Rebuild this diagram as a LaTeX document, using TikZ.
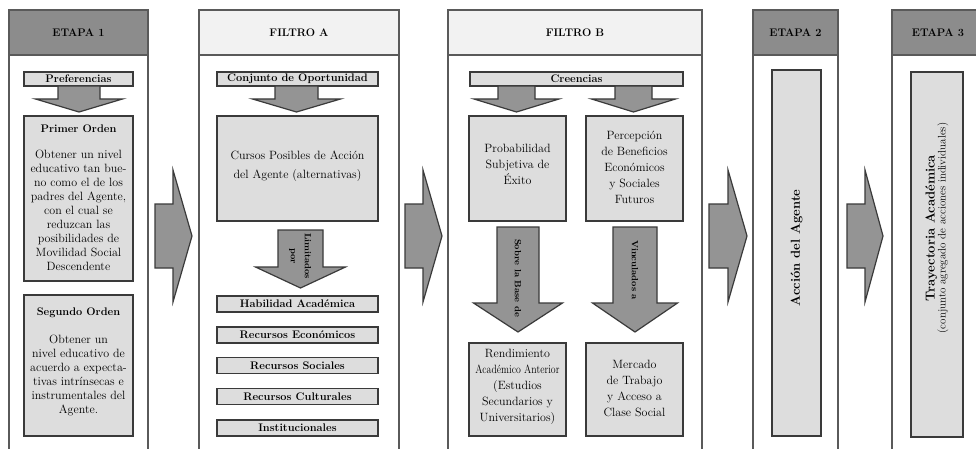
\documentclass[tikz,border=0pt]{standalone}
\usepackage{graphicx}
\definecolor{hdark}{HTML}{8C8C8C}
\definecolor{hlight}{HTML}{F2F2F2}
\definecolor{boxfill}{HTML}{DDDDDD}
\definecolor{arrfill}{HTML}{949494}
\definecolor{edge}{HTML}{3A3A3A}
\definecolor{coledge}{HTML}{5A5A5A}
\tikzset{
  colline/.style={draw=coledge, line width=1.2pt},
  hdrdark/.style={draw=coledge, line width=1.2pt, fill=hdark},
  hdrlight/.style={draw=coledge, line width=1.2pt, fill=hlight},
  gbox/.style={draw=edge, line width=1.4pt, fill=boxfill, inner sep=0pt},
  arr/.style={draw=edge, line width=1.2pt, fill=arrfill, line join=miter},
  hdrtxt/.style={font=\fontsize{11}{13}\selectfont\bfseries, inner sep=0pt},
  bartxt/.style={font=\fontsize{11}{13}\selectfont\bfseries},
  ttl/.style={font=\fontsize{11}{13}\selectfont\bfseries, inner sep=0pt},
  body/.style={align=center, font=\fontsize{12}{14}\selectfont, inner sep=0pt},
  bodyb/.style={align=center, font=\fontsize{12}{16}\selectfont, inner sep=0pt},
  rot/.style={align=center, font=\fontsize{9}{12}\selectfont\bfseries, inner sep=0pt, rotate=-90},
}
% down block arrow: cx, shaft half, head half, ytop, yhead, ytip
\newcommand\blkdown[6]{%
  \draw[arr] (#1-#2,#4) -- (#1+#2,#4) -- (#1+#2,#5) -- (#1+#3,#5) -- (#1,#6)
    -- (#1-#3,#5) -- (#1-#2,#5) -- cycle;}
% right block arrow: xleft, xhead, xtip
\newcommand\blkright[3]{%
  \draw[arr] (#1,204) -- (#2,204) -- (#2,170) -- (#3,236) -- (#2,302)
    -- (#2,268) -- (#1,268) -- cycle;}
\begin{document}
\begin{tikzpicture}[x=1pt,y=-1pt]
\useasboundingbox (0,0) rectangle (976,449);
\fill[white] (0,0) rectangle (976,449);

% ---------- columns ----------
\foreach \xa/\xb in {9/148, 199/399, 448/702, 753/838, 892/984}{
  \draw[colline] (\xa,449) -- (\xa,10) -- (\xb,10) -- (\xb,449);
}
\draw[hdrdark]  (9,10) rectangle (148,55);
\draw[hdrlight] (199,10) rectangle (399,55);
\draw[hdrlight] (448,10) rectangle (702,55);
\draw[hdrdark]  (753,10) rectangle (838,55);
\draw[hdrdark]  (892,10) rectangle (984,55);
\node[hdrtxt] (h1) at (78.5,32.5) {ETAPA 1};
\node[hdrtxt] (h2) at (299,32.5) {FILTRO A};
\node[hdrtxt] (h3) at (575,32.5) {FILTRO B};
\node[hdrtxt] (h4) at (795.5,32.5) {ETAPA 2};
\node[hdrtxt] (h5) at (938,32.5) {ETAPA 3};

% ---------- ETAPA 1 ----------
\node[gbox, bartxt, minimum width=109pt, minimum height=14pt] (pref) at (78.5,79) {Preferencias};
\blkdown{79}{21}{43.5}{86}{99}{112}
\node[gbox, minimum width=109pt, minimum height=165pt] (po) at (78.5,198.5) {};
\node[ttl] (pot) at (78.5,129) {Primer Orden};
\node[body] (pob) at (78.5,210.5) {Obtener un nivel\\educativo tan bue-\\no como el de los\\padres del Agente,\\con el cual se\\reduzcan las\\posibilidades de\\Movilidad Social\\Descendente};
\node[gbox, minimum width=109pt, minimum height=141pt] (so) at (78.5,365.5) {};
\node[ttl] (sot) at (78.5,313) {Segundo Orden};
\node[body] (sob) at (78.5,375.5) {Obtener un\\nivel educativo de\\acuerdo a expecta-\\tivas intrínsecas e\\instrumentales del\\Agente.};

\blkright{155}{173}{192}

% ---------- FILTRO A ----------
\node[gbox, bartxt, minimum width=161pt, minimum height=14pt] (conj) at (297.5,79) {Conjunto de Oportunidad};
\blkdown{296.5}{21.5}{44}{86}{99}{112}
\node[gbox, minimum width=161pt, minimum height=105pt] (cur) at (297.5,168.5) {};
\node[align=center, font=\fontsize{12}{19}\selectfont, inner sep=0pt] (curt) at (297.5,166) {Cursos Posibles de Acción\\del Agente (alternativas)};
\blkdown{300.5}{22.5}{45}{230}{267}{288}
\node[rot, font=\fontsize{9}{14}\selectfont\bfseries] (lim) at (300,256) {Limitados\\por};
\foreach \yy/\tt/\nm in {304/Habilidad Académica/r1, 335/Recursos Económicos/r2, 365.5/Recursos Sociales/r3, 396.5/Recursos Culturales/r4, 428/Institucionales/r5}{
  \node[gbox, bartxt, minimum width=161pt, minimum height=16pt] (\nm) at (297.5,\yy) {\tt};
}

\blkright{405}{423}{442}

% ---------- FILTRO B ----------
\node[gbox, bartxt, minimum width=213pt, minimum height=14pt] (cre) at (576.5,79) {Creencias};
\blkdown{516.5}{18.5}{42.5}{86}{99}{112}
\blkdown{633.5}{18.5}{42}{86}{99}{112}
\node[gbox, minimum width=97pt, minimum height=105pt] (prob) at (517.5,168.5) {};
\node[bodyb] (probt) at (517.5,164) {Probabilidad\\Subjetiva de\\Éxito};
\node[gbox, minimum width=97pt, minimum height=105pt] (perc) at (634.5,168.5) {};
\node[bodyb] (perct) at (634.5,167) {Percepción\\de Beneficios\\Económicos\\y Sociales\\Futuros};
\blkdown{518}{21}{44.5}{227}{303}{332}
\blkdown{635}{22}{42.5}{227}{303}{332}
\node[rot] (sob2) at (518,278) {Sobre la Base de};
\node[rot] (vin) at (635,270) {Vinculados a};
\node[gbox, minimum width=97pt, minimum height=93pt] (rend) at (517.5,389.5) {};
\node[bodyb] (rendt) at (517.5,387) {Rendimiento\\\scalebox{0.82}[1]{Académico Anterior}\\(Estudios\\Secundarios y\\Universitarios)};
\node[gbox, minimum width=97pt, minimum height=93pt] (merc) at (634.5,389.5) {};
\node[bodyb] (merct) at (634.5,388) {Mercado\\de Trabajo\\y Acceso a\\Clase Social};

\blkright{709}{728}{747}

% ---------- ETAPA 2 ----------
\node[gbox, minimum width=49pt, minimum height=366pt] (acc) at (796.5,253) {};
\node[rotate=90, font=\fontsize{13}{15}\selectfont\bfseries, inner sep=0pt] (acct) at (796.5,248) {Acción del Agente};

\blkright{847}{865}{883}

% ---------- ETAPA 3 ----------
\node[gbox, minimum width=52pt, minimum height=365pt] (tra) at (937,254.5) {};
\node[rotate=90, align=center, inner sep=0pt] (trat) at (937,228)
  {{\fontsize{13}{14}\selectfont\bfseries Trayectoria Académica}\\[-1pt]
   {\fontsize{11}{12}\selectfont (conjunto agregado de acciones individuales)}};
\end{tikzpicture}
\end{document}
